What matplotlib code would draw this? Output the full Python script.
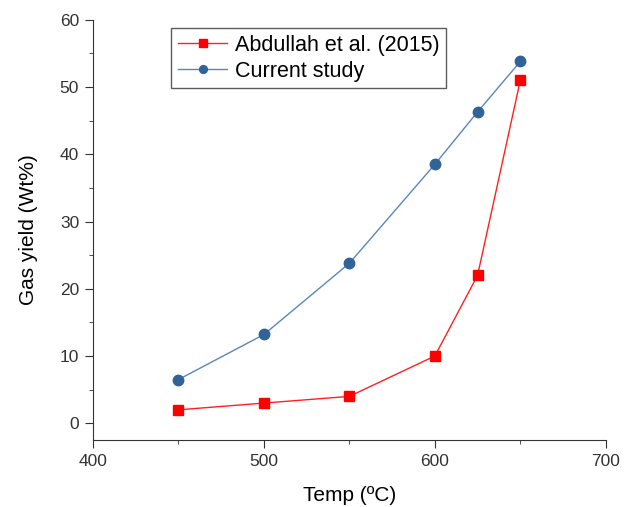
import matplotlib.pyplot as plt

plt.rcParams['font.family'] = ['Liberation Sans', 'DejaVu Sans']

temp = [450, 500, 550, 600, 625, 650]
abdullah = [2.0, 3.0, 4.0, 10.0, 22.0, 51.0]
current = [6.5, 13.2, 23.8, 38.5, 46.3, 53.8]

fig = plt.figure(figsize=(6.37, 5.07), dpi=100)
ax = fig.add_axes([0.146, 0.132, 0.805, 0.829])

ax.plot(temp, abdullah, color='#ff2020', marker='s', markersize=7,
        markerfacecolor='#ff0000', markeredgecolor='#ff0000',
        linewidth=1, label='Abdullah et al. (2015)')
ax.plot(temp, current, color='#5a86bb', marker='o', markersize=7.5,
        markerfacecolor='#2f6399', markeredgecolor='#2f6399',
        linewidth=1, label='Current study')

ax.set_xlim(400, 700)
ax.set_ylim(-2.5, 60)
ax.set_xticks([400, 500, 600, 700])
ax.set_xticks([450, 550, 650], minor=True)
ax.set_yticks([0, 10, 20, 30, 40, 50, 60])
ax.set_yticks([5, 15, 25, 35, 45, 55], minor=True)
ax.tick_params(which='major', direction='out', length=6, labelsize=12.5,
               colors='#333333', pad=4)
ax.tick_params(which='minor', direction='out', length=3, colors='#333333')
for s in ['top', 'right']:
    ax.spines[s].set_visible(False)
for s in ['left', 'bottom']:
    ax.spines[s].set_color('#333333')

ax.set_xlabel('Temp (ºC)', fontsize=15, labelpad=12)
ax.set_ylabel('Gas yield (Wt%)', fontsize=15, labelpad=16)

leg = ax.legend(loc='upper left', bbox_to_anchor=(0.153, 0.98), fontsize=15.5,
                frameon=True, fancybox=False, edgecolor='#333333',
                borderpad=0.3, labelspacing=0.25, handlelength=2.3,
                handletextpad=0.35, borderaxespad=0, markerscale=0.75)
leg.get_frame().set_linewidth(1)

fig.savefig('out.png', dpi=100)
